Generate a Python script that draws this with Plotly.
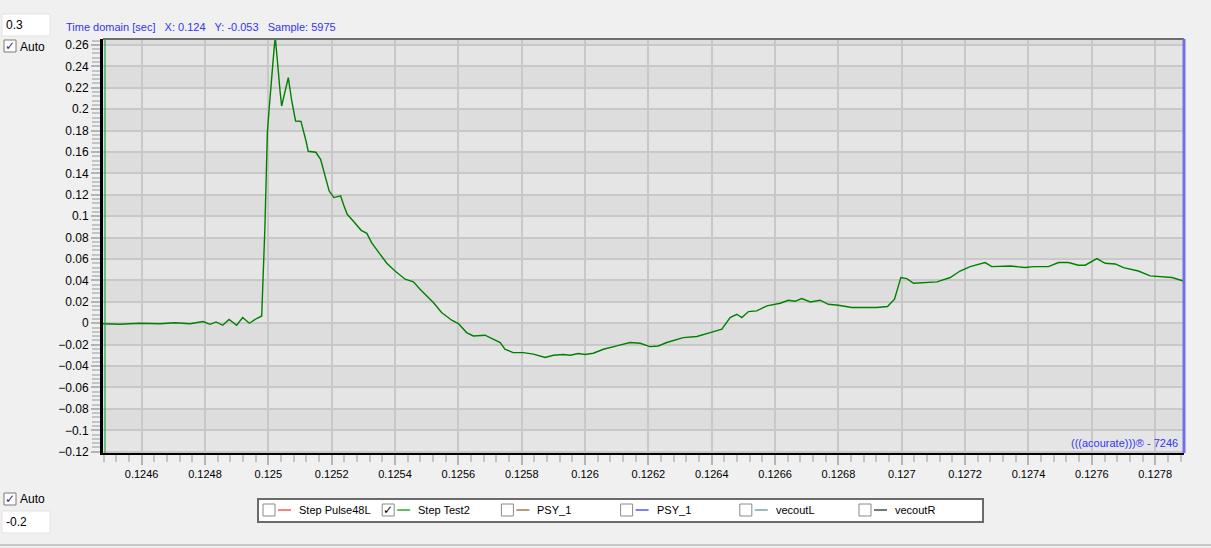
import plotly.graph_objects as go

# time [sec] and amplitude
time_sec = [
    0.124478, 0.124531, 0.124595, 0.124658, 0.124705, 0.124753, 0.124794, 0.124816,
    0.124835, 0.124856, 0.124876, 0.124900, 0.124919, 0.124940, 0.124963, 0.124979,
    0.124989, 0.124993, 0.124997, 0.125002, 0.125007, 0.125012, 0.125018, 0.125022,
    0.125026, 0.125031, 0.125037, 0.125042, 0.125050, 0.125058, 0.125063, 0.125074,
    0.125081, 0.125086, 0.125103, 0.125110, 0.125119, 0.125126, 0.125150, 0.125165,
    0.125176, 0.125184, 0.125192, 0.125207, 0.125228, 0.125239, 0.125249, 0.125268,
    0.125293, 0.125311, 0.125326, 0.125353, 0.125374, 0.125400, 0.125432, 0.125458,
    0.125479, 0.125521, 0.125547, 0.125579, 0.125600, 0.125626, 0.125647, 0.125684,
    0.125710, 0.125732, 0.125747, 0.125773, 0.125805, 0.125837, 0.125874, 0.125900,
    0.125931, 0.125953, 0.125979, 0.126000, 0.126026, 0.126058, 0.126100, 0.126142,
    0.126174, 0.126205, 0.126231, 0.126258, 0.126310, 0.126353, 0.126395, 0.126432,
    0.126458, 0.126479, 0.126495, 0.126516, 0.126542, 0.126574, 0.126616, 0.126642,
    0.126663, 0.126684, 0.126711, 0.126742, 0.126768, 0.126800, 0.126842, 0.126921,
    0.126955, 0.126977, 0.126997, 0.127016, 0.127037, 0.127111, 0.127153, 0.127184,
    0.127216, 0.127263, 0.127284, 0.127342, 0.127389, 0.127416, 0.127463, 0.127495,
    0.127526, 0.127558, 0.127579, 0.127616, 0.127642, 0.127674, 0.127700, 0.127747,
    0.127784, 0.127853, 0.127889,
]
step_test2 = [
    -0.0005, -0.0010, 0.0000, -0.0005, 0.0005, -0.0005, 0.0016, -0.0010,
    0.0012, -0.0019, 0.0035, -0.0019, 0.0053, 0.0000, 0.0044, 0.0068,
    0.0878, 0.1469, 0.1783, 0.1982, 0.2185, 0.2387, 0.2558, 0.2670,
    0.2512, 0.2341, 0.2169, 0.2029, 0.2122, 0.2232, 0.2294, 0.2076,
    0.1967, 0.1889, 0.1886, 0.1811, 0.1702, 0.1606, 0.1597, 0.1531,
    0.1407, 0.1298, 0.1235, 0.1174, 0.1190, 0.1095, 0.1018, 0.0955,
    0.0868, 0.0840, 0.0753, 0.0644, 0.0560, 0.0488, 0.0411, 0.0387,
    0.0317, 0.0193, 0.0100, 0.0028, -0.0003, -0.0087, -0.0119, -0.0112,
    -0.0149, -0.0180, -0.0243, -0.0274, -0.0274, -0.0289, -0.0320, -0.0299,
    -0.0292, -0.0299, -0.0283, -0.0292, -0.0280, -0.0243, -0.0212, -0.0180,
    -0.0187, -0.0218, -0.0212, -0.0180, -0.0134, -0.0124, -0.0087, -0.0056,
    0.0053, 0.0084, 0.0053, 0.0109, 0.0115, 0.0162, 0.0187, 0.0215,
    0.0205, 0.0231, 0.0199, 0.0215, 0.0177, 0.0168, 0.0147, 0.0147,
    0.0156, 0.0224, 0.0427, 0.0417, 0.0373, 0.0386, 0.0427, 0.0488,
    0.0529, 0.0567, 0.0529, 0.0535, 0.0520, 0.0529, 0.0529, 0.0567,
    0.0567, 0.0542, 0.0542, 0.0604, 0.0560, 0.0554, 0.0520, 0.0488,
    0.0442, 0.0427, 0.0395,
]

legend_names = ['Step Pulse48L', 'Step Test2', 'PSY_1', 'PSY_1', 'vecoutL', 'vecoutR']
legend_colors = ['#ff7f7f', '#66bb66', '#bb9977', '#7f7fff', '#99bbbb', '#777777']
legend_checked = [False, True, False, False, False, False]

x_range = [0.124478, 0.127891]
y_range = [-0.1212, 0.2655]

W, H = 1211, 548
L, R, T, B = 103, 1184, 39, 453


def px(x):
    return (x - L) / (R - L)


def py(y):
    return (B - y) / (B - T)


FONT = 'Liberation Sans, Arial, sans-serif'
BLUE = '#3535f0'

fig = go.Figure()
fig.add_trace(go.Scatter(x=time_sec, y=step_test2, mode='lines',
                         line=dict(color='#008000', width=1.4), name='Step Test2',
                         hoverinfo='x+y'))

shapes = []
# alternating horizontal bands between grid lines
for k in range(-7, 14):
    lo = k * 0.02
    shapes.append(dict(type='rect', xref='paper', yref='y', x0=0, x1=1, y0=lo, y1=lo + 0.02,
                       fillcolor='#dddddd' if k % 2 else '#e5e5e5', line_width=0, layer='below'))

# frame lines
shapes += [
    dict(type='line', xref='paper', yref='paper', x0=0, x1=1, y0=1, y1=1,
         line=dict(color='#6e6e6e', width=2)),
    dict(type='line', xref='paper', yref='paper', x0=1, x1=1, y0=0, y1=1,
         line=dict(color='#7070e8', width=3)),
    dict(type='line', xref='paper', yref='paper', x0=px(105), x1=px(105), y0=0, y1=1,
         line=dict(color='#20a040', width=1.2)),
    # separator at bottom of window
    dict(type='line', xref='paper', yref='paper', x0=px(0), x1=px(W), y0=py(545), y1=py(545),
         line=dict(color='#c8c8c8', width=2)),
]

annotations = [
    dict(text='Time domain [sec]   X: 0.124   Y: -0.053   Sample: 5975',
         xref='paper', yref='paper', x=px(64), y=py(27), xanchor='left', yanchor='middle',
         showarrow=False, font=dict(family=FONT, size=11, color=BLUE)),
    dict(text='(((acourate)))® - 7246', xref='paper', yref='paper', x=px(1180), y=py(443),
         xanchor='right', yanchor='middle', showarrow=False,
         font=dict(family=FONT, size=11, color=BLUE)),
]


def input_box(x0, y0, x1, y1, text):
    shapes.append(dict(type='rect', xref='paper', yref='paper', x0=px(x0), x1=px(x1),
                       y0=py(y1), y1=py(y0), fillcolor='white',
                       line=dict(color='#e3e3e3', width=1)))
    annotations.append(dict(text=text, xref='paper', yref='paper', x=px(x0 + 2),
                            y=py((y0 + y1) / 2), xanchor='left', yanchor='middle',
                            showarrow=False, font=dict(family=FONT, size=12, color='black')))


def checkbox(x0, y0, checked, size=12, border='#7a7a7a', check_color='#2a2a8a'):
    shapes.append(dict(type='rect', xref='paper', yref='paper', x0=px(x0), x1=px(x0 + size),
                       y0=py(y0 + size), y1=py(y0), fillcolor='white',
                       line=dict(color=border, width=1)))
    if checked:
        annotations.append(dict(text='✓', xref='paper', yref='paper', x=px(x0 + size / 2),
                                y=py(y0 + size / 2), xanchor='center', yanchor='middle',
                                showarrow=False,
                                font=dict(family='DejaVu Sans', size=12, color=check_color)))


# left-hand controls
input_box(2, 14, 50, 36, '0.3')
checkbox(4, 40, True)
annotations.append(dict(text='Auto', xref='paper', yref='paper', x=px(18), y=py(47),
                        xanchor='left', yanchor='middle', showarrow=False,
                        font=dict(family=FONT, size=12, color='black')))
checkbox(4, 493, True)
annotations.append(dict(text='Auto', xref='paper', yref='paper', x=px(18), y=py(499),
                        xanchor='left', yanchor='middle', showarrow=False,
                        font=dict(family=FONT, size=12, color='black')))
input_box(2, 511, 50, 533, '-0.2')

# legend box with check boxes
shapes.append(dict(type='rect', xref='paper', yref='paper', x0=px(258), x1=px(983),
                   y0=py(522), y1=py(499), fillcolor='white',
                   line=dict(color='#6a6a6a', width=2)))
for i, (name, col, chk) in enumerate(zip(legend_names, legend_colors, legend_checked)):
    x0 = 263 + i * 119.2
    checkbox(x0, 504, chk, size=12, border='#8a8a8a', check_color='black')
    shapes.append(dict(type='line', xref='paper', yref='paper', x0=px(x0 + 15), x1=px(x0 + 28),
                       y0=py(510), y1=py(510), line=dict(color=col, width=2)))
    annotations.append(dict(text=name, xref='paper', yref='paper', x=px(x0 + 34), y=py(510),
                            xanchor='left', yanchor='middle', showarrow=False,
                            font=dict(family=FONT, size=11, color='black')))

fig.update_layout(
    width=W, height=H,
    margin=dict(l=L, r=W - R, t=T, b=H - B),
    paper_bgcolor='#f0f0f0',
    plot_bgcolor='#e2e2e2',
    showlegend=False,
    shapes=shapes,
    annotations=annotations,
    font=dict(family=FONT, size=11, color='black'),
)

fig.update_xaxes(
    range=x_range, tickmode='linear', tick0=0.1246, dtick=0.0002, tickformat='.4~f',
    showgrid=True, gridcolor='#c8c8c8', gridwidth=2, zeroline=False,
    showline=True, linecolor='black', linewidth=2,
    ticks='outside', ticklen=10, tickwidth=2, tickcolor='#b4b4b4',
    minor=dict(dtick=0.00004, tick0=0.1246, ticks='outside', ticklen=7, tickwidth=2,
               tickcolor='#c4c4c4', showgrid=False),
    tickfont=dict(family=FONT, size=11, color='black'),
)
fig.update_yaxes(
    range=y_range, tickmode='linear', tick0=0, dtick=0.02, tickformat='~g',
    showgrid=True, gridcolor='#c8c8c8', gridwidth=2, zeroline=False,
    showline=True, linecolor='black', linewidth=3,
    ticks='outside', ticklen=9, tickwidth=2, tickcolor='#b4b4b4',
    minor=dict(dtick=0.004, tick0=0, ticks='outside', ticklen=8, tickwidth=2,
               tickcolor='#c4c4c4', showgrid=False),
    tickfont=dict(family=FONT, size=12, color='black'),
)

# drop the default page margin so the figure sits at the window's top-left corner
fig.write_html("out.html", config={'displayModeBar': False},
               post_script="document.body.style.margin='0';")
